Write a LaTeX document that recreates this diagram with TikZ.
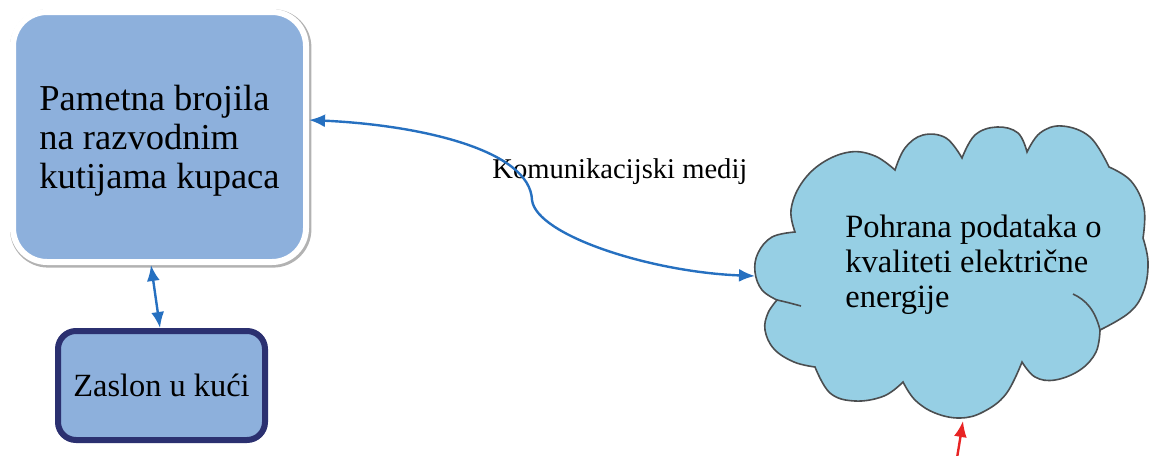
\documentclass[tikz,border=0pt]{standalone}
\usepackage{fontspec}
\setmainfont{Liberation Serif}
\usetikzlibrary{arrows.meta}
\definecolor{boxblue}{RGB}{141,176,220}
\definecolor{boxnavy}{RGB}{43,48,112}
\definecolor{cloudblue}{RGB}{150,207,228}
\definecolor{cloudedge}{RGB}{75,78,80}
\definecolor{linkblue}{RGB}{38,112,192}
\definecolor{feedred}{RGB}{232,36,36}

\begin{document}
\begin{tikzpicture}[x=0.5pt, y=-0.5pt,
  bigbox/.style={draw=white, line width=3pt, fill=boxblue, rounded corners=17pt,
    minimum width=146.5pt, minimum height=125pt,
    preaction={draw=black!30, line width=4.2pt, transform canvas={shift={(0.6pt,-0.7pt)}}}},
  bigtext/.style={align=left, inner sep=0pt, font=\fontsize{18.25}{19.5}\selectfont},
  smallbox/.style={draw=boxnavy, line width=3pt, fill=boxblue, rounded corners=9pt,
    minimum width=103.5pt, minimum height=54.5pt, font=\fontsize{16.2}{18}\selectfont},
  cloudtext/.style={align=left, inner sep=0pt, font=\fontsize{16.25}{17.5}\selectfont},
  commtext/.style={inner sep=0pt, font=\fontsize{14.3}{16}\selectfont},
  cloudline/.style={draw=cloudedge, line width=0.8pt},
  link/.style={draw=linkblue, line width=1.2pt, {Latex[length=8pt,width=6.5pt]}-{Latex[length=8pt,width=6.5pt]}},
  feed/.style={draw=feedred, line width=1.2pt, -{Latex[length=8pt,width=6.5pt]}}
]
\useasboundingbox (0,0) rectangle (1149,455);

% meters and in-home display
\node[bigbox] (meters) at (159.5,137) {};
\node[bigtext] (metersTxt) at (159.5,140.5) {Pametna brojila\\na razvodnim\\kutijama kupaca};
\node[smallbox] (display) at (161.5,385.5) {Zaslon u kući};

% data storage cloud
\filldraw[cloudline, fill=cloudblue]
  plot[smooth, tension=0.65] coordinates {(795,232) (791,210) (801,184) (822,163) (850,152) (875,156) (895,170)}
  -- plot[smooth, tension=0.65] coordinates {(895,170) (905,148) (923,135) (946,138) (962,158)}
  -- plot[smooth, tension=0.65] coordinates {(962,158) (975,135) (997,127) (1018,133) (1027,152)}
  -- plot[smooth, tension=0.65] coordinates {(1027,152) (1040,133) (1062,126) (1090,137) (1109,167)}
  -- plot[smooth, tension=0.65] coordinates {(1109,167) (1131,181) (1144,208) (1143,238)}
  -- plot[smooth, tension=0.65] coordinates {(1143,238) (1148,262) (1144,290) (1130,312) (1100,330)}
  -- plot[smooth, tension=0.65] coordinates {(1100,330) (1096,352) (1080,370) (1055,380) (1035,377) (1022,362)}
  -- plot[smooth, tension=0.65] coordinates {(1022,362) (1006,394) (983,412) (960,418) (935,413) (915,400) (903,382)}
  -- plot[smooth, tension=0.65] coordinates {(903,382) (884,396) (855,401) (830,393) (815,367)}
  -- plot[smooth, tension=0.65] coordinates {(815,367) (794,362) (774,349) (765,330) (768,313) (777,300)}
  -- plot[smooth, tension=0.65] coordinates {(777,300) (762,290) (755,272) (758,253) (772,237) (795,232)}
  -- cycle;
\draw[cloudline] (777,300) .. controls (786,302) .. (801,306);
\draw[cloudline] (1100,330) .. controls (1095,310) and (1086,300) .. (1073,294);
\node[cloudtext, anchor=west] (store) at (845,264.5) {Pohrana podataka o\\kvaliteti električne\\energije};
\coordinate (cloudW) at (755,276);
\coordinate (cloudS) at (963,421);
\coordinate (feedIn) at (957,458);

% connectors
\node[commtext, anchor=base west] (medium) at (492,178) {Komunikacijski medij};
\draw[link] ([yshift=8.5pt]meters.east) .. controls (420,125) and (530,150) .. (532,200)
  .. controls (536,235) and (650,272) .. (cloudW);
\draw[link] ([xshift=-4.25pt]meters.south) -- ([xshift=-0.75pt]display.north);
\draw[feed] (feedIn) -- (cloudS);
\end{tikzpicture}
\end{document}
